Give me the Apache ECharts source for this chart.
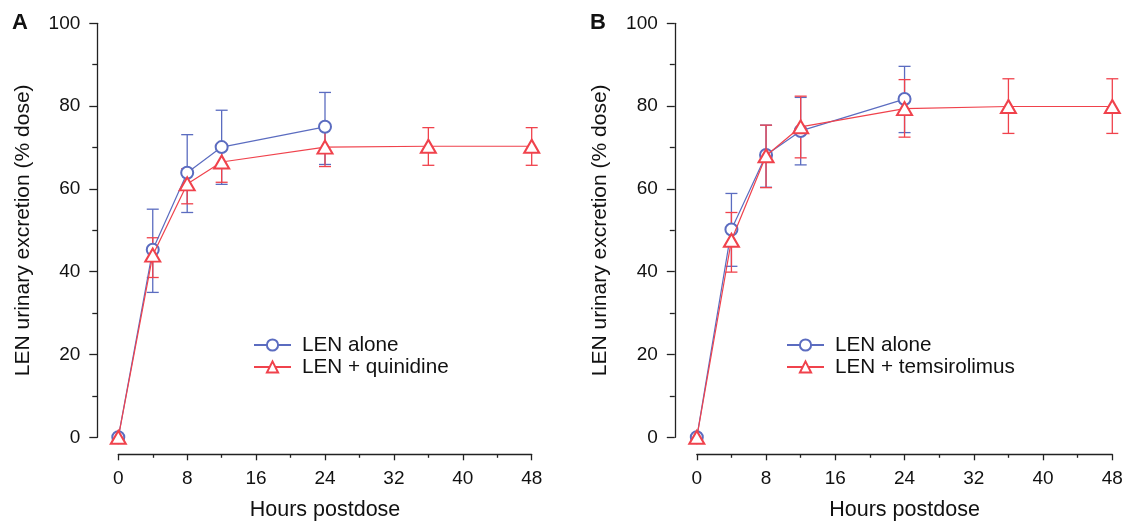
<!DOCTYPE html>
<html>
<head>
<meta charset="utf-8">
<script src="https://cdn.jsdelivr.net/npm/echarts@6/dist/echarts.min.js"></script>
<style>
html,body{margin:0;padding:0;background:#fff;}
#chart{width:1129px;height:521px;}
</style>
</head>
<body>
<div id="chart"></div>
<script>
// ---- Data ----
const hoursShort = [0, 4, 8, 12, 24];
const hoursLong = [0, 4, 8, 12, 24, 36, 48];

// Panel A
const aAloneMean = [0, 45.3, 63.9, 70.1, 75.0];
const aAloneHi   = [null, 55.1, 73.1, 79.0, 83.3];
const aAloneLo   = [null, 35.0, 54.3, 61.1, 65.9];
const aQuinMean  = [0, 44.0, 61.2, 66.5, 70.1, 70.3, 70.3];
const aQuinHi    = [null, 48.2, 64.9, 70.8, 74.6, 74.8, 74.8];
const aQuinLo    = [null, 38.6, 56.4, 61.6, 65.4, 65.7, 65.7];

// Panel B
const bAloneMean = [0, 50.2, 68.2, 74.0, 81.7];
const bAloneHi   = [null, 58.9, 75.4, 82.1, 89.6];
const bAloneLo   = [null, 41.3, 60.4, 65.8, 73.6];
const bTemMean   = [0, 47.6, 68.0, 75.0, 79.4, 79.9, 79.9];
const bTemHi     = [null, 54.3, 75.4, 82.4, 86.4, 86.6, 86.6];
const bTemLo     = [null, 39.9, 60.3, 67.5, 72.5, 73.4, 73.4];

const xTicks = [0, 8, 16, 24, 32, 40, 48];
const yTicks = [0, 20, 40, 60, 80, 100];

const panelLabels = ['A', 'B'];
const nameAlone = 'LEN alone';
const nameQuin = 'LEN + quinidine';
const nameTem = 'LEN + temsirolimus';
const xTitle = 'Hours postdose';
const yTitle = 'LEN urinary excretion (% dose)';

// ---- Styles ----
const BLUE = '#5b6cc0';
const RED = '#f0424c';
const FONT = "'Liberation Sans', Arial, Helvetica, sans-serif";

function pairs(xs, ys) { return xs.map((x, i) => [x, ys[i]]); }
function errData(xs, lo, hi) {
  const out = [];
  xs.forEach((x, i) => { if (hi[i] != null && lo[i] != null) out.push([x, lo[i], hi[i]]); });
  return out;
}
function errSeries(xs, lo, hi, color, gi) {
  return {
    type: 'custom', xAxisIndex: gi, yAxisIndex: gi, z: 1, silent: true,
    data: errData(xs, lo, hi),
    encode: { x: 0, y: [1, 2] },
    renderItem: function (params, api) {
      const x = api.value(0), lo = api.value(1), hi = api.value(2);
      const pHi = api.coord([x, hi]);
      const pLo = api.coord([x, lo]);
      const hw = 6;
      const st = { stroke: color, lineWidth: 1.3 };
      return {
        type: 'group',
        children: [
          { type: 'line', shape: { x1: pHi[0], y1: pHi[1], x2: pLo[0], y2: pLo[1] }, style: st },
          { type: 'line', shape: { x1: pHi[0] - hw, y1: pHi[1], x2: pHi[0] + hw, y2: pHi[1] }, style: st },
          { type: 'line', shape: { x1: pLo[0] - hw, y1: pLo[1], x2: pLo[0] + hw, y2: pLo[1] }, style: st }
        ]
      };
    }
  };
}
function lineSeries(name, xs, ys, color, symbol, size, gi, z) {
  return {
    name: name, type: 'line', xAxisIndex: gi, yAxisIndex: gi, z: z,
    data: pairs(xs, ys),
    symbol: symbol, symbolSize: size, showAllSymbol: true,
    lineStyle: { color: color, width: 1.2 },
    itemStyle: { color: color, borderColor: color, borderWidth: 1 },
    clip: false, animation: false
  };
}

function xAxisCfg(gi) {
  return {
    type: 'value', gridIndex: gi, min: xTicks[0], max: xTicks[xTicks.length - 1], interval: xTicks[1] - xTicks[0],
    offset: 17,
    axisLine: { show: true, onZero: false, lineStyle: { color: '#222', width: 1.3 } },
    axisTick: { show: true, length: 6, lineStyle: { color: '#222', width: 1.3 } },
    minorTick: { show: true, splitNumber: 2, length: 3.5, lineStyle: { color: '#222', width: 1.3 } },
    splitLine: { show: false },
    axisLabel: { fontSize: 19, color: '#111', fontFamily: FONT, margin: 15 },
    name: xTitle, nameLocation: 'middle', nameGap: 45,
    nameTextStyle: { fontSize: 21.5, color: '#111', fontFamily: FONT }
  };
}
function yAxisCfg(gi, off) {
  return {
    type: 'value', gridIndex: gi, min: yTicks[0], max: yTicks[yTicks.length - 1], interval: yTicks[1] - yTicks[0],
    offset: off,
    axisLine: { show: true, onZero: false, lineStyle: { color: '#222', width: 1.3 } },
    axisTick: { show: true, length: 8, lineStyle: { color: '#222', width: 1.3 } },
    minorTick: { show: true, splitNumber: 2, length: 5, lineStyle: { color: '#222', width: 1.3 } },
    splitLine: { show: false },
    axisLabel: { fontSize: 19, color: '#111', fontFamily: FONT, margin: 17 },
    name: yTitle, nameLocation: 'middle', nameGap: 64, nameRotate: 90,
    nameTextStyle: { fontSize: 21, color: '#111', fontFamily: FONT }
  };
}

function legendCfg(left, names) {
  return {
    orient: 'vertical', left: left, top: 334, padding: 0, itemWidth: 37, itemHeight: 14, itemGap: 0,
    data: names, selectedMode: false,
    textStyle: { fontSize: 20.7, lineHeight: 22, color: '#111', fontFamily: FONT, padding: [0, 0, 0, 6] }
  };
}

const chart = echarts.init(document.getElementById('chart'), null, { renderer: 'canvas' });
chart.setOption({
  backgroundColor: '#fff',
  animation: false,
  textStyle: { fontFamily: FONT },
  title: [
    { text: panelLabels[0], left: 12, top: 12, padding: 0, textStyle: { fontSize: 22, fontWeight: 'bold', color: '#111', fontFamily: FONT } },
    { text: panelLabels[1], left: 590, top: 12, padding: 0, textStyle: { fontSize: 22, fontWeight: 'bold', color: '#111', fontFamily: FONT } }
  ],
  grid: [
    { left: 118.3, top: 23.3, width: 413.4, height: 414, containLabel: false, outerBoundsMode: 'none' },
    { left: 696.8, top: 23.3, width: 415.5, height: 414, containLabel: false, outerBoundsMode: 'none' }
  ],
  legend: [
    legendCfg(253, [nameAlone, nameQuin]),
    legendCfg(786, [nameAlone, nameTem])
  ],
  xAxis: [xAxisCfg(0), xAxisCfg(1)],
  yAxis: [yAxisCfg(0, 21), yAxisCfg(1, 22)],
  series: [
    errSeries(hoursShort, aAloneLo, aAloneHi, BLUE, 0),
    errSeries(hoursLong, aQuinLo, aQuinHi, RED, 0),
    lineSeries(nameAlone, hoursShort, aAloneMean, BLUE, 'emptyCircle', 12, 0, 3),
    lineSeries(nameQuin, hoursLong, aQuinMean, RED, 'emptyTriangle', [15, 13], 0, 4),
    errSeries(hoursShort, bAloneLo, bAloneHi, BLUE, 1),
    errSeries(hoursLong, bTemLo, bTemHi, RED, 1),
    lineSeries(nameAlone, hoursShort, bAloneMean, BLUE, 'emptyCircle', 12, 1, 3),
    lineSeries(nameTem, hoursLong, bTemMean, RED, 'emptyTriangle', [15, 13], 1, 4)
  ]
});
</script>
</body>
</html>
